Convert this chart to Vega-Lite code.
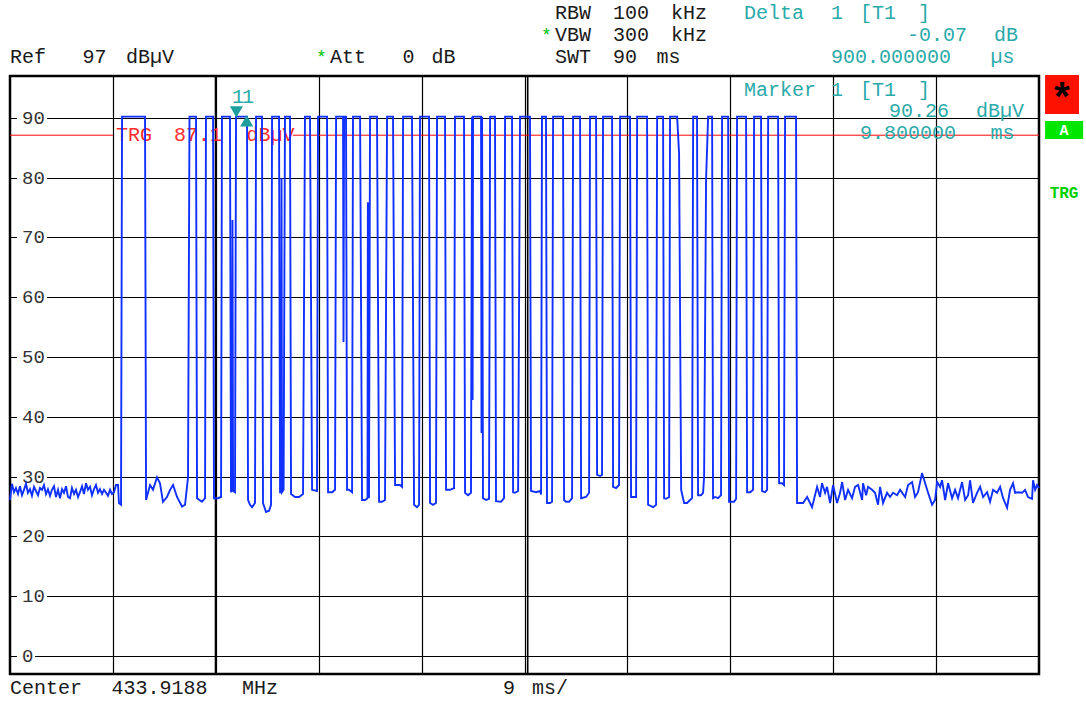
{
"$schema": "https://vega.github.io/schema/vega-lite/v6.json",
"width": 1029, "height": 598,
"autosize": "none",
"padding": {"left": 10, "top": 76, "right": 47, "bottom": 28},
"background": "#ffffff",
"config": {
  "view": {"stroke": "#000000", "strokeWidth": 2.5},
  "font": "Liberation Mono",
  "axis": {"labels": false, "ticks": false, "domain": false, "grid": true, "gridColor": "#000000", "gridWidth": 1.2, "gridOpacity": 1, "title": null}
},
"datasets": {
  "one": [{"k": 1}],
  "trace": [
{"t":-10,"v":26.1},{"t":-9.83,"v":28.8},{"t":-9.65,"v":27.4},{"t":-9.48,"v":28.1},{"t":-9.3,"v":27.1},{"t":-9.13,"v":28.4},{"t":-8.95,"v":26.9},{"t":-8.78,"v":27.8},{"t":-8.6,"v":28.8},{"t":-8.43,"v":27.3},{"t":-8.25,"v":27.9},{"t":-8.08,"v":26.8},{"t":-7.9,"v":28.3},{"t":-7.73,"v":27.6},{"t":-7.55,"v":26.9},{"t":-7.38,"v":28.1},{"t":-7.2,"v":27.8},{"t":-7.03,"v":28.6},{"t":-6.85,"v":27.1},{"t":-6.68,"v":27.9},{"t":-6.5,"v":26.8},{"t":-6.33,"v":27.8},{"t":-6.15,"v":28.4},{"t":-5.98,"v":26.6},{"t":-5.8,"v":27.8},{"t":-5.63,"v":26.4},{"t":-5.45,"v":27.9},{"t":-5.28,"v":27.3},{"t":-5.1,"v":28.4},{"t":-4.93,"v":26.6},{"t":-4.75,"v":26.4},{"t":-4.58,"v":28.1},{"t":-4.4,"v":27.1},{"t":-4.23,"v":27.8},{"t":-4.05,"v":26.6},{"t":-3.88,"v":27.4},{"t":-3.7,"v":28.4},{"t":-3.53,"v":27.1},{"t":-3.35,"v":28.9},{"t":-3.18,"v":27.8},{"t":-3.0,"v":28.3},{"t":-2.83,"v":26.9},{"t":-2.65,"v":27.9},{"t":-2.48,"v":28.6},{"t":-2.3,"v":27.3},{"t":-2.13,"v":27.9},{"t":-1.95,"v":27.1},{"t":-1.78,"v":27.8},{"t":-1.6,"v":27.3},{"t":-1.43,"v":26.8},{"t":-1.25,"v":27.8},{"t":-1.08,"v":27.1},{"t":-0.9,"v":27.4},{"t":-0.73,"v":28.6},
{"t":-0.55,"v":28.6},{"t":-0.47,"v":25.6},{"t":-0.29,"v":25.3},{"t":-0.2,"v":90.2},{"t":1.81,"v":90.2},{"t":1.9,"v":26.1},{"t":2.25,"v":28.6},{"t":2.51,"v":27.8},{"t":2.86,"v":29.9},{"t":3.12,"v":28.9},{"t":3.38,"v":25.8},{"t":3.73,"v":26.6},{"t":4.0,"v":27.8},{"t":4.26,"v":28.6},{"t":4.61,"v":26.6},{"t":5.05,"v":25.0},{"t":5.31,"v":25.3},{"t":5.48,"v":28.3},{"t":5.57,"v":29.9},
{"t":5.7,"v":90.2},{"t":6.27,"v":90.2},{"t":6.36,"v":26.4},{"t":6.79,"v":25.8},{"t":7.06,"v":26.4},{"t":7.14,"v":90.2},{"t":7.76,"v":90.2},{"t":7.84,"v":26.4},{"t":8.19,"v":26.4},{"t":8.46,"v":26.6},{"t":8.54,"v":90.2},{"t":9.24,"v":90.2},{"t":9.33,"v":27.4},{"t":9.42,"v":27.8},{"t":9.46,"v":72.9},{"t":9.51,"v":27.6},{"t":9.68,"v":27.4},{"t":9.77,"v":90.2},{"t":10.73,"v":90.2},{"t":10.82,"v":26.1},{"t":10.99,"v":25.3},{"t":11.17,"v":24.9},{"t":11.43,"v":25.6},{"t":11.52,"v":90.2},{"t":12.04,"v":90.2},{"t":12.13,"v":25.6},{"t":12.39,"v":24.1},{"t":12.66,"v":24.3},{"t":12.83,"v":25.3},{"t":12.92,"v":90.2},{"t":13.53,"v":90.2},{"t":13.62,"v":27.4},{"t":13.71,"v":27.4},{"t":13.75,"v":79.9},{"t":13.79,"v":27.4},{"t":13.93,"v":27.8},{"t":14.05,"v":90.2},{"t":14.49,"v":90.2},{"t":14.58,"v":27.1},{"t":14.93,"v":26.6},{"t":15.28,"v":26.6},{"t":15.63,"v":27.1},{"t":15.8,"v":90.2},{"t":16.24,"v":90.2},{"t":16.42,"v":27.8},{"t":16.85,"v":27.6},{"t":16.94,"v":90.2},{"t":17.73,"v":90.2},{"t":17.82,"v":27.4},{"t":18.17,"v":27.4},{"t":18.43,"v":27.8},{"t":18.52,"v":90.2},{"t":19.13,"v":90.2},{"t":19.17,"v":52.5},{"t":19.22,"v":90.2},{"t":19.39,"v":90.2},{"t":19.48,"v":27.8},{"t":19.65,"v":27.8},{"t":19.92,"v":27.4},{"t":20.0,"v":90.2},{"t":20.62,"v":90.2},{"t":20.79,"v":26.1},{"t":21.05,"v":26.1},{"t":21.27,"v":26.4},{"t":21.3,"v":75.9},{"t":21.35,"v":26.6},{"t":21.4,"v":26.6},{"t":21.49,"v":90.2},{"t":22.1,"v":90.2},{"t":22.28,"v":25.8},{"t":22.54,"v":25.8},{"t":22.8,"v":26.1},{"t":22.98,"v":90.2},{"t":23.5,"v":90.2},{"t":23.68,"v":28.6},{"t":24.11,"v":28.6},{"t":24.29,"v":28.3},{"t":24.38,"v":90.2},{"t":25.16,"v":90.2},{"t":25.34,"v":25.3},{"t":25.6,"v":24.9},{"t":25.78,"v":25.3},{"t":25.86,"v":90.2},{"t":26.65,"v":90.2},{"t":26.74,"v":25.6},{"t":27.0,"v":25.3},{"t":27.26,"v":25.6},{"t":27.35,"v":90.2},{"t":28.05,"v":90.2},{"t":28.14,"v":27.8},{"t":28.49,"v":27.8},{"t":28.84,"v":28.1},{"t":28.92,"v":90.2},{"t":29.71,"v":90.2},{"t":29.8,"v":27.3},{"t":30.06,"v":26.9},{"t":30.32,"v":27.3},{"t":30.41,"v":90.2},{"t":30.46,"v":42.8},{"t":30.5,"v":90.2},{"t":31.2,"v":90.2},{"t":31.24,"v":37.3},{"t":31.29,"v":90.2},{"t":31.37,"v":26.4},{"t":31.64,"v":26.1},{"t":31.9,"v":26.3},{"t":31.99,"v":90.2},{"t":32.42,"v":90.2},{"t":32.51,"v":25.9},{"t":32.95,"v":25.8},{"t":33.21,"v":26.4},{"t":33.3,"v":90.2},{"t":33.91,"v":90.2},{"t":34.0,"v":27.4},{"t":34.17,"v":27.3},{"t":34.44,"v":27.6},{"t":34.61,"v":90.2},{"t":35.48,"v":90.2},{"t":35.57,"v":27.6},{"t":36.01,"v":27.4},{"t":36.36,"v":27.6},{"t":36.45,"v":27.0},{"t":36.53,"v":90.2},{"t":36.88,"v":90.2},{"t":36.97,"v":25.6},{"t":37.23,"v":25.6},{"t":37.41,"v":25.8},{"t":37.5,"v":90.2},{"t":38.37,"v":90.2},{"t":38.46,"v":26.1},{"t":38.63,"v":25.8},{"t":38.9,"v":25.8},{"t":39.16,"v":26.4},{"t":39.25,"v":90.2},{"t":39.86,"v":90.2},{"t":39.95,"v":26.4},{"t":40.38,"v":26.6},{"t":40.65,"v":27.3},{"t":40.73,"v":90.2},{"t":41.26,"v":90.2},{"t":41.35,"v":30.3},{"t":41.61,"v":30.1},{"t":41.78,"v":30.3},{"t":41.87,"v":90.2},{"t":42.66,"v":90.2},{"t":42.75,"v":28.3},{"t":43.01,"v":28.1},{"t":43.27,"v":28.6},{"t":43.36,"v":90.2},{"t":44.23,"v":90.2},{"t":44.32,"v":26.6},{"t":44.76,"v":26.6},{"t":44.85,"v":90.2},{"t":45.72,"v":90.2},{"t":45.81,"v":25.3},{"t":46.25,"v":24.9},{"t":46.51,"v":25.3},{"t":46.6,"v":90.2},{"t":47.12,"v":90.2},{"t":47.21,"v":26.4},{"t":47.38,"v":26.3},{"t":47.65,"v":26.6},{"t":47.73,"v":90.2},{"t":48.35,"v":90.2},{"t":48.52,"v":84.0},{"t":48.7,"v":27.8},{"t":48.96,"v":25.6},{"t":49.22,"v":25.6},{"t":49.48,"v":26.1},{"t":49.66,"v":26.4},{"t":49.75,"v":90.2},{"t":50.09,"v":90.2},{"t":50.18,"v":26.9},{"t":50.44,"v":26.9},{"t":50.62,"v":27.3},{"t":50.71,"v":30.0},{"t":50.88,"v":79.6},{"t":51.06,"v":90.2},{"t":51.41,"v":90.2},{"t":51.49,"v":26.4},{"t":51.67,"v":26.6},{"t":51.93,"v":26.4},{"t":52.19,"v":26.9},{"t":52.28,"v":90.2},{"t":52.81,"v":90.2},{"t":52.89,"v":25.8},{"t":53.33,"v":25.8},{"t":53.51,"v":26.3},{"t":53.59,"v":90.2},{"t":54.38,"v":90.2},{"t":54.47,"v":27.4},{"t":54.74,"v":27.4},{"t":54.99,"v":27.8},{"t":55.08,"v":90.2},{"t":55.69,"v":90.2},{"t":55.78,"v":27.6},{"t":56.04,"v":27.4},{"t":56.22,"v":27.8},{"t":56.31,"v":90.2},{"t":57.18,"v":90.2},{"t":57.27,"v":28.9},{"t":57.53,"v":28.9},{"t":57.7,"v":28.6},{"t":57.79,"v":90.2},{"t":58.75,"v":90.2},{"t":58.84,"v":25.6},
{"t":59.37,"v":25.6},{"t":59.72,"v":26.6},{"t":60.15,"v":24.9},{"t":60.59,"v":28.3},{"t":60.85,"v":26.6},{"t":61.02,"v":28.9},{"t":61.29,"v":27.3},{"t":61.46,"v":28.3},{"t":61.73,"v":25.6},{"t":61.99,"v":28.6},{"t":62.34,"v":25.6},{"t":62.6,"v":27.3},{"t":62.78,"v":29.1},{"t":63.04,"v":26.1},{"t":63.3,"v":27.8},{"t":63.65,"v":26.4},{"t":63.91,"v":28.3},{"t":64.18,"v":28.6},{"t":64.53,"v":26.1},{"t":64.61,"v":28.9},{"t":64.88,"v":26.9},{"t":65.05,"v":28.3},{"t":65.4,"v":27.8},{"t":65.66,"v":27.3},{"t":65.92,"v":25.3},{"t":66.1,"v":28.3},{"t":66.36,"v":25.6},{"t":66.71,"v":27.3},{"t":66.97,"v":26.6},{"t":67.24,"v":27.3},{"t":67.59,"v":26.9},{"t":67.85,"v":27.8},{"t":68.29,"v":26.6},{"t":68.55,"v":28.6},{"t":68.9,"v":29.1},{"t":69.16,"v":26.6},{"t":69.42,"v":27.4},{"t":69.77,"v":30.6},{"t":70.04,"v":28.9},{"t":70.3,"v":27.3},{"t":70.65,"v":25.3},{"t":70.91,"v":26.1},{"t":71.09,"v":29.1},{"t":71.35,"v":28.3},{"t":71.52,"v":29.4},{"t":71.79,"v":26.1},{"t":72.05,"v":28.9},{"t":72.4,"v":26.4},{"t":72.66,"v":27.8},{"t":72.92,"v":26.4},{"t":73.27,"v":29.1},{"t":73.54,"v":26.1},{"t":73.8,"v":26.9},{"t":73.97,"v":29.4},{"t":74.23,"v":25.6},{"t":74.58,"v":27.3},{"t":74.85,"v":28.3},{"t":75.11,"v":26.6},{"t":75.46,"v":27.4},{"t":75.72,"v":25.8},{"t":75.98,"v":27.8},{"t":76.33,"v":27.3},{"t":76.6,"v":28.3},{"t":76.86,"v":26.4},{"t":77.21,"v":24.8},{"t":77.47,"v":27.8},{"t":77.73,"v":28.9},{"t":77.91,"v":27.3},{"t":78.17,"v":27.4},{"t":78.52,"v":27.3},{"t":78.78,"v":27.8},{"t":79.04,"v":26.6},{"t":79.39,"v":26.3},{"t":79.48,"v":29.4},{"t":79.66,"v":27.8},{"t":79.83,"v":28.6},{"t":80.0,"v":28.1}
  ],
  "levels": [{"level":0},{"level":10},{"level":20},{"level":30},{"level":40},{"level":50},{"level":60},{"level":70},{"level":80},{"level":90}],
  "black": [
    {"t":37.67,"db":106.45,"s":"RBW"},{"t":42.74,"db":106.45,"s":"100"},{"t":47.82,"db":106.45,"s":"kHz"},
    {"t":37.67,"db":102.77,"s":"VBW"},{"t":42.74,"db":102.77,"s":"300"},{"t":47.82,"db":102.77,"s":"kHz"},
    {"t":-10,"db":99.12,"s":"Ref"},{"t":-3.66,"db":99.12,"s":"97"},{"t":0.15,"db":99.12,"s":"dBµV"},
    {"t":17.99,"db":99.12,"s":"Att"},{"t":24.33,"db":99.12,"s":"0"},{"t":26.87,"db":99.12,"s":"dB"},
    {"t":37.67,"db":99.12,"s":"SWT"},{"t":42.74,"db":99.12,"s":"90"},{"t":46.55,"db":99.12,"s":"ms"},
    {"t":-10,"db":-6.35,"s":"Center"},{"t":-1.12,"db":-6.35,"s":"433.9188"},{"t":10.29,"db":-6.35,"s":"MHz"},
    {"t":33.12,"db":-6.35,"s":"9"},{"t":35.66,"db":-6.35,"s":"ms/"}
  ],
  "teal": [
    {"t":54.2,"db":106.45,"s":"Delta"},{"t":61.81,"db":106.45,"s":"1"},{"t":64.35,"db":106.45,"s":"[T1"},{"t":69.42,"db":106.45,"s":"]"},
    {"t":68.46,"db":102.77,"s":"-0.07"},{"t":76.07,"db":102.77,"s":"dB"},
    {"t":61.81,"db":99.12,"s":"900.000000"},{"t":75.76,"db":99.12,"s":"µs"},
    {"t":54.2,"db":93.66,"s":"Marker"},{"t":61.81,"db":93.66,"s":"1"},{"t":64.35,"db":93.66,"s":"[T1"},{"t":69.42,"db":93.66,"s":"]"},
    {"t":66.89,"db":90.14,"s":"90.26"},{"t":74.5,"db":90.14,"s":"dBµV"},
    {"t":64.35,"db":86.46,"s":"9.800000"},{"t":75.76,"db":86.46,"s":"ms"},
    {"t":9.42,"db":92.48,"s":"1"},{"t":10.29,"db":92.48,"s":"1"}
  ],
  "green": [
    {"t":36.45,"db":102.77,"s":"*"},{"t":16.77,"db":99.12,"s":"*"}
  ],
  "red": [
    {"t":-0.73,"db":86.21,"s":"TRG"},{"t":4.35,"db":86.21,"s":"87.1"},{"t":10.69,"db":86.21,"s":"dBµV"}
  ]
},
"layer": [
  {"data": {"name": "levels"}, "transform": [{"filter": "datum.level > 0"}],
   "mark": {"type": "rule", "stroke": "#ffffff", "strokeWidth": 4},
   "encoding": {
     "y": {"field": "level", "type": "quantitative", "title": null, "scale": {"domain": [-3, 97], "nice": false, "zero": false}},
     "x": {"datum": -9.39, "type": "quantitative", "scale": {"domain": [-10, 80], "nice": false, "zero": false}},
     "x2": {"datum": -6.76}}},
  {"data": {"name": "levels"}, "transform": [{"filter": "datum.level == 0"}],
   "mark": {"type": "rule", "stroke": "#ffffff", "strokeWidth": 4},
   "encoding": {
     "y": {"field": "level", "type": "quantitative", "title": null, "scale": {"domain": [-3, 97], "nice": false, "zero": false}},
     "x": {"datum": -9.39, "type": "quantitative", "scale": {"domain": [-10, 80], "nice": false, "zero": false}},
     "x2": {"datum": -7.81}}},
  {"data": {"name": "levels"},
   "mark": {"type": "text", "align": "left", "baseline": "middle", "fontSize": 19, "font": "Liberation Mono", "fill": "#333333"},
   "encoding": {
     "y": {"field": "level", "type": "quantitative", "title": null, "scale": {"domain": [-3, 97], "nice": false, "zero": false}},
     "x": {"datum": -8.95, "type": "quantitative", "scale": {"domain": [-10, 80], "nice": false, "zero": false}},
     "text": {"field": "level", "type": "quantitative", "format": "d"}}},
  {"data": {"name": "one"},
   "mark": {"type": "rule", "stroke": "#000000", "strokeWidth": 2.2},
   "encoding": {"x": {"datum": 8, "type": "quantitative", "scale": {"domain": [-10, 80], "nice": false, "zero": false}}}},
  {"data": {"name": "one"},
   "mark": {"type": "rule", "stroke": "#000000", "strokeWidth": 1.6},
   "encoding": {"x": {"datum": 35.28, "type": "quantitative", "scale": {"domain": [-10, 80], "nice": false, "zero": false}}}},
  {"data": {"name": "one"},
   "mark": {"type": "rule", "stroke": "#ff0000", "strokeWidth": 1},
   "encoding": {
     "y": {"datum": 87.1, "type": "quantitative", "scale": {"domain": [-3, 97], "nice": false, "zero": false}},
     "x": {"datum": -10, "type": "quantitative", "scale": {"domain": [-10, 80], "nice": false, "zero": false}},
     "x2": {"datum": -1.0}}},
  {"data": {"name": "one"},
   "mark": {"type": "rule", "stroke": "#ff0000", "strokeWidth": 1},
   "encoding": {
     "y": {"datum": 87.1, "type": "quantitative", "scale": {"domain": [-3, 97], "nice": false, "zero": false}},
     "x": {"datum": 14.75, "type": "quantitative", "scale": {"domain": [-10, 80], "nice": false, "zero": false}},
     "x2": {"datum": 80}}},
  {"data": {"name": "red"},
   "mark": {"type": "text", "align": "left", "baseline": "alphabetic", "fontSize": 20, "font": "Liberation Mono", "fill": "#ff2a2a"},
   "encoding": {
     "x": {"field": "t", "type": "quantitative", "title": null, "scale": {"domain": [-10, 80], "nice": false, "zero": false}},
     "y": {"field": "db", "type": "quantitative", "title": null, "scale": {"domain": [-3, 97], "nice": false, "zero": false}},
     "text": {"field": "s"}}},
  {"data": {"name": "trace"},
   "mark": {"type": "line", "stroke": "#1030ff", "strokeWidth": 1.9, "interpolate": "linear"},
   "encoding": {
     "x": {"field": "t", "type": "quantitative", "title": null, "scale": {"domain": [-10, 80], "nice": false, "zero": false},
           "axis": {"values": [-1, 8, 17, 26, 35, 44, 53, 62, 71], "title": null}},
     "y": {"field": "v", "type": "quantitative", "title": null, "scale": {"domain": [-3, 97], "nice": false, "zero": false},
           "axis": {"values": [0, 10, 20, 30, 40, 50, 60, 70, 80, 90], "title": null}}}},
  {"data": {"name": "one"},
   "mark": {"type": "point", "shape": "triangle-down", "filled": true, "size": 170, "fill": "#1f9e9e", "opacity": 1},
   "encoding": {
     "x": {"datum": 9.8, "type": "quantitative", "scale": {"domain": [-10, 80], "nice": false, "zero": false}},
     "y": {"datum": 91.0, "type": "quantitative", "scale": {"domain": [-3, 97], "nice": false, "zero": false}}}},
  {"data": {"name": "one"},
   "mark": {"type": "point", "shape": "triangle-up", "filled": true, "size": 170, "fill": "#1f9e9e", "opacity": 1},
   "encoding": {
     "x": {"datum": 10.7, "type": "quantitative", "scale": {"domain": [-10, 80], "nice": false, "zero": false}},
     "y": {"datum": 89.5, "type": "quantitative", "scale": {"domain": [-3, 97], "nice": false, "zero": false}}}},
  {"data": {"name": "black"},
   "mark": {"type": "text", "align": "left", "baseline": "alphabetic", "fontSize": 20, "font": "Liberation Mono", "fill": "#1a1a1a"},
   "encoding": {
     "x": {"field": "t", "type": "quantitative", "title": null, "scale": {"domain": [-10, 80], "nice": false, "zero": false}},
     "y": {"field": "db", "type": "quantitative", "title": null, "scale": {"domain": [-3, 97], "nice": false, "zero": false}},
     "text": {"field": "s"}}},
  {"data": {"name": "teal"},
   "mark": {"type": "text", "align": "left", "baseline": "alphabetic", "fontSize": 20, "font": "Liberation Mono", "fill": "#2aa9a9"},
   "encoding": {
     "x": {"field": "t", "type": "quantitative", "title": null, "scale": {"domain": [-10, 80], "nice": false, "zero": false}},
     "y": {"field": "db", "type": "quantitative", "title": null, "scale": {"domain": [-3, 97], "nice": false, "zero": false}},
     "text": {"field": "s"}}},
  {"data": {"name": "green"},
   "mark": {"type": "text", "align": "left", "baseline": "alphabetic", "fontSize": 18, "font": "Liberation Mono", "fill": "#00c000"},
   "encoding": {
     "x": {"field": "t", "type": "quantitative", "title": null, "scale": {"domain": [-10, 80], "nice": false, "zero": false}},
     "y": {"field": "db", "type": "quantitative", "title": null, "scale": {"domain": [-3, 97], "nice": false, "zero": false}},
     "text": {"field": "s"}}},
  {"data": {"name": "one"},
   "mark": {"type": "rect", "fill": "#ff1100"},
   "encoding": {
     "x": {"datum": 80.53, "type": "quantitative", "scale": {"domain": [-10, 80], "nice": false, "zero": false}},
     "x2": {"datum": 83.5},
     "y": {"datum": 97.17, "type": "quantitative", "scale": {"domain": [-3, 97], "nice": false, "zero": false}},
     "y2": {"datum": 90.65}}},
  {"data": {"name": "one"},
   "mark": {"type": "text", "align": "center", "baseline": "alphabetic", "fontSize": 40, "fontWeight": "bold", "font": "Liberation Mono", "fill": "#000000", "text": "*"},
   "encoding": {
     "x": {"datum": 82.02, "type": "quantitative", "scale": {"domain": [-10, 80], "nice": false, "zero": false}},
     "y": {"datum": 90.98, "type": "quantitative", "scale": {"domain": [-3, 97], "nice": false, "zero": false}}}},
  {"data": {"name": "one"},
   "mark": {"type": "rect", "fill": "#00e600"},
   "encoding": {
     "x": {"datum": 80.53, "type": "quantitative", "scale": {"domain": [-10, 80], "nice": false, "zero": false}},
     "x2": {"datum": 83.86},
     "y": {"datum": 89.47, "type": "quantitative", "scale": {"domain": [-3, 97], "nice": false, "zero": false}},
     "y2": {"datum": 86.46}}},
  {"data": {"name": "one"},
   "mark": {"type": "text", "align": "center", "baseline": "middle", "fontSize": 15, "fontWeight": "bold", "font": "Liberation Mono", "fill": "#ffffff", "text": "A"},
   "encoding": {
     "x": {"datum": 82.19, "type": "quantitative", "scale": {"domain": [-10, 80], "nice": false, "zero": false}},
     "y": {"datum": 87.97, "type": "quantitative", "scale": {"domain": [-3, 97], "nice": false, "zero": false}}}},
  {"data": {"name": "one"},
   "mark": {"type": "text", "align": "center", "baseline": "middle", "fontSize": 16, "fontWeight": "bold", "font": "Liberation Mono", "fill": "#00d000", "text": "TRG"},
   "encoding": {
     "x": {"datum": 82.19, "type": "quantitative", "scale": {"domain": [-10, 80], "nice": false, "zero": false}},
     "y": {"datum": 77.43, "type": "quantitative", "scale": {"domain": [-3, 97], "nice": false, "zero": false}}}}
]
}
